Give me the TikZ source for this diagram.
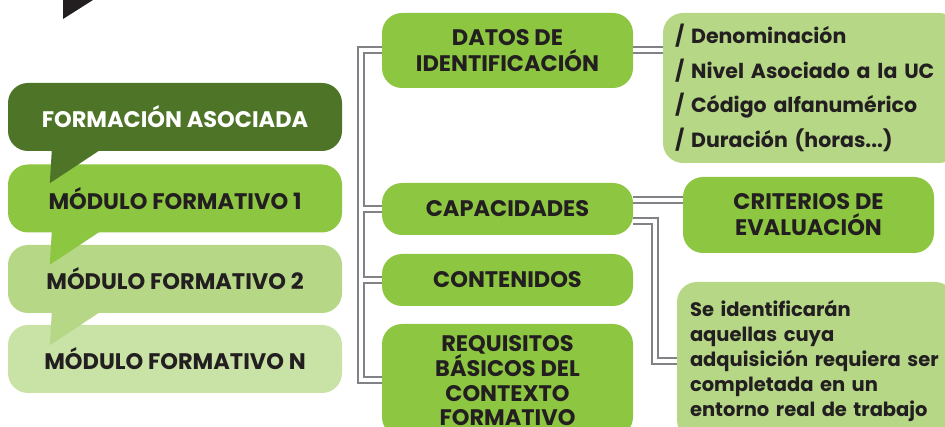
\documentclass[tikz,border=0pt]{standalone}
\usepackage{fontspec}
\setmainfont{Poppins}
\usetikzlibrary{calc}
\definecolor{ink}{HTML}{231F20}
\definecolor{darkleaf}{HTML}{4E7428}
\definecolor{leaf}{HTML}{8DC641}
\definecolor{paleleaf}{HTML}{B5D786}
\definecolor{mistleaf}{HTML}{C9E2A5}
\definecolor{wire}{HTML}{808285}

\begin{document}
\begin{tikzpicture}[x=1pt, y=-1pt,
	every node/.style={font=\bfseries\fontsize{22.5}{26}\selectfont, text=ink, align=center, rounded corners=20pt, inner sep=0pt},
	modulo/.style={minimum width=334pt, minimum height=68pt},
	rama/.style={fill=leaf, minimum width=251pt},
	lista/.style={fill=paleleaf, align=left, inner xsep=12pt},
	link/.style={draw=wire, line width=2pt, double=white, double distance=4pt}]

	\useasboundingbox (0,0) rectangle (945,427);
	\fill[ink] (63,0) -- (63,19) -- (93,0) -- cycle;

	% columna de modulos
	\node[modulo, fill=darkleaf, text=white] (formacion) at (175,117) {FORMACIÓN ASOCIADA};
	\node[modulo, fill=leaf] (mod1) at (175,198.5) {MÓDULO FORMATIVO 1};
	\node[modulo, fill=paleleaf] (mod2) at (175,279) {MÓDULO FORMATIVO 2};
	\node[modulo, fill=mistleaf] (modn) at (175,359) {MÓDULO FORMATIVO N};
	\foreach \m/\c in {formacion/darkleaf, mod1/leaf, mod2/paleleaf}
		\fill[\c] ($(\m.south west)+(44,-1)$) -- ($(\m.south west)+(92,-1)$) -- ($(\m.south west)+(42,32)$) -- cycle;

	% apartados del modulo
	\node[rama, minimum height=75pt] (datos) at (507.5,50.5) {DATOS DE\\IDENTIFICACIÓN};
	\node[rama, minimum height=52pt] (capacidades) at (507.5,209) {CAPACIDADES};
	\node[rama, minimum height=52pt] (contenidos) at (507.5,280) {CONTENIDOS};
	\node[rama, minimum height=113pt, font=\bfseries\fontsize{22.5}{24.5}\selectfont] (requisitos) at (507.5,380.5) {REQUISITOS\\BÁSICOS DEL\\CONTEXTO\\FORMATIVO};

	% detalle
	\node[lista, text width=272pt, minimum height=150pt, font=\bfseries\fontsize{20.5}{34.5}\selectfont] (denominacion) at (811,88) {/ Denominación\\/ Nivel Asociado a la UC\\/ Código alfanumérico\\/ Duración (horas...)};
	\node[rama, minimum height=76pt] (criterios) at (808.5,215) {CRITERIOS DE\\EVALUACIÓN};
	\node[lista, inner xsep=13pt, text width=252pt, minimum height=158pt, font=\bfseries\fontsize{19.5}{25}\selectfont] (entorno) at (816,361) {Se identificarán\\aquellas cuya\\adquisición requiera ser\\completada en un\\entorno real de trabajo};

	% conexiones
	\coordinate (tronco) at (361,0);
	\coordinate (capa1) at ($(capacidades.east)+(0,-8.5)$);
	\coordinate (capa2) at ($(capacidades.east)+(0,12)$);
	\draw[link] (datos.west) -| (tronco |- requisitos.west) -- (requisitos.west);
	\draw[link] ($(tronco |- capacidades.west)+(2,0)$) -- (capacidades.west);
	\draw[link] ($(tronco |- contenidos.west)+(2,0)$) -- (contenidos.west);
	\draw[link] (datos.east) -- (datos.east -| denominacion.west);
	\draw[link] (capa1) -- (capa1 -| criterios.west);
	\draw[link] (capa2) -| ($(entorno.west)+(-22,0)$) -- (entorno.west);
\end{tikzpicture}
\end{document}
